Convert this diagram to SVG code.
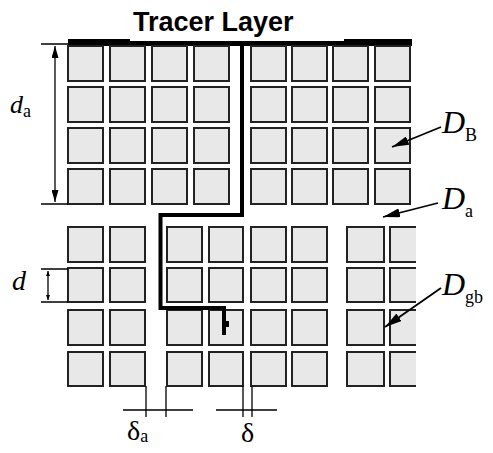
<svg xmlns="http://www.w3.org/2000/svg" width="493" height="453" viewBox="0 0 493 453">
<defs>
<style>
.sq{fill:#e8e8e8;stroke:#222;stroke-width:2}
.sqf{fill:#e8e8e8;stroke:none}
.ln{fill:none;stroke:#000;stroke-width:1.3}
.la{fill:none;stroke:#000;stroke-width:1.8}
.tr{fill:none;stroke:#000;stroke-width:4;stroke-linejoin:miter}
.it{font-family:"Liberation Serif",serif;font-style:italic}
.rm{font-family:"Liberation Serif",serif}
.ttl{font-family:"Liberation Sans",Arial,sans-serif;font-weight:bold}
</style>
<marker id="ah" viewBox="0 0 10 10" refX="10" refY="5" markerWidth="17" markerHeight="9" orient="auto" markerUnits="userSpaceOnUse" preserveAspectRatio="none"><path d="M0,0 L10,5 L0,10 z" fill="#000"/></marker>
<marker id="dh" viewBox="0 0 10 10" refX="10" refY="5" markerWidth="12" markerHeight="7" orient="auto-start-reverse" markerUnits="userSpaceOnUse" preserveAspectRatio="none"><path d="M0,0 L10,5 L0,10 z" fill="#000"/></marker>
<marker id="sh" viewBox="0 0 10 10" refX="10" refY="5" markerWidth="5" markerHeight="4" orient="auto-start-reverse" markerUnits="userSpaceOnUse" preserveAspectRatio="none"><path d="M0,0 L10,5 L0,10 z" fill="#000"/></marker>
</defs>
<rect width="493" height="453" fill="#fff"/>

<g id="title">
<text class="ttl" x="133" y="31" font-size="27">Tracer Layer</text>
</g>

<g id="tracer-layer">
<rect x="68" y="41" width="344" height="5" fill="#000"/>
<rect x="68" y="39" width="62" height="3" fill="#000"/>
<rect x="344" y="39" width="68" height="3" fill="#000"/>
</g>

<g id="grain-A">
<rect class="sq" x="68" y="46" width="35" height="35"/><rect class="sq" x="110" y="46" width="35" height="35"/><rect class="sq" x="152" y="46" width="35" height="35"/><rect class="sq" x="194" y="46" width="35" height="35"/>
<rect class="sq" x="68" y="87" width="35" height="35"/><rect class="sq" x="110" y="87" width="35" height="35"/><rect class="sq" x="152" y="87" width="35" height="35"/><rect class="sq" x="194" y="87" width="35" height="35"/>
<rect class="sq" x="68" y="128" width="35" height="35"/><rect class="sq" x="110" y="128" width="35" height="35"/><rect class="sq" x="152" y="128" width="35" height="35"/><rect class="sq" x="194" y="128" width="35" height="35"/>
<rect class="sq" x="68" y="169" width="35" height="35"/><rect class="sq" x="110" y="169" width="35" height="35"/><rect class="sq" x="152" y="169" width="35" height="35"/><rect class="sq" x="194" y="169" width="35" height="35"/>
</g>

<g id="grain-B">
<rect class="sq" x="251" y="46" width="35" height="35"/><rect class="sq" x="292" y="46" width="35" height="35"/><rect class="sq" x="333" y="46" width="35" height="35"/><rect class="sq" x="375" y="46" width="35" height="35"/>
<rect class="sq" x="251" y="87" width="35" height="35"/><rect class="sq" x="292" y="87" width="35" height="35"/><rect class="sq" x="333" y="87" width="35" height="35"/><rect class="sq" x="375" y="87" width="35" height="35"/>
<rect class="sq" x="251" y="128" width="35" height="35"/><rect class="sq" x="292" y="128" width="35" height="35"/><rect class="sq" x="333" y="128" width="35" height="35"/><rect class="sq" x="375" y="128" width="35" height="35"/>
<rect class="sq" x="251" y="169" width="35" height="35"/><rect class="sq" x="292" y="169" width="35" height="35"/><rect class="sq" x="333" y="169" width="35" height="35"/><rect class="sq" x="375" y="169" width="35" height="35"/>
</g>

<g id="grain-C">
<rect class="sq" x="68" y="227" width="35" height="35"/><rect class="sq" x="110" y="227" width="35" height="35"/>
<rect class="sq" x="68" y="268" width="35" height="34"/><rect class="sq" x="110" y="268" width="35" height="34"/>
<rect class="sq" x="68" y="310" width="35" height="35"/><rect class="sq" x="110" y="310" width="35" height="35"/>
<rect class="sq" x="68" y="352" width="35" height="34"/><rect class="sq" x="110" y="352" width="35" height="34"/>
</g>

<g id="grain-D">
<rect class="sq" x="167" y="227" width="35" height="35"/><rect class="sq" x="209" y="227" width="34" height="35"/><rect class="sq" x="251" y="227" width="35" height="35"/><rect class="sq" x="292" y="227" width="35" height="35"/>
<rect class="sq" x="167" y="268" width="35" height="34"/><rect class="sq" x="209" y="268" width="34" height="34"/><rect class="sq" x="251" y="268" width="35" height="34"/><rect class="sq" x="292" y="268" width="35" height="34"/>
<rect class="sq" x="167" y="310" width="35" height="35"/><rect class="sq" x="209" y="310" width="34" height="35"/><rect class="sq" x="251" y="310" width="35" height="35"/><rect class="sq" x="292" y="310" width="35" height="35"/>
<rect class="sq" x="167" y="352" width="35" height="34"/><rect class="sq" x="209" y="352" width="34" height="34"/><rect class="sq" x="251" y="352" width="35" height="34"/><rect class="sq" x="292" y="352" width="35" height="34"/>
</g>

<g id="grain-E">
<rect class="sq" x="347" y="227" width="37" height="35"/><rect class="sq" x="347" y="268" width="37" height="34"/><rect class="sq" x="347" y="310" width="37" height="35"/><rect class="sq" x="347" y="352" width="37" height="34"/>
<rect class="sqf" x="390" y="227" width="26" height="35"/><rect class="sqf" x="390" y="268" width="26" height="34"/><rect class="sqf" x="390" y="310" width="26" height="35"/><rect class="sqf" x="390" y="352" width="26" height="34"/>
<path d="M416,227 H390 V262 H416 M416,268 H390 V302 H416 M416,310 H390 V345 H416 M416,352 H390 V386 H416" fill="none" stroke="#222" stroke-width="2"/>
</g>

<g id="connectors">
<path class="tr" d="M242,44 V215 H160.5 V308 H224 V335"/>
<rect x="224" y="321" width="5" height="6" fill="#000"/>
<path class="ln" d="M41,44 H68 M41,204 H68"/>
<path class="ln" d="M55,46 V202" marker-start="url(#dh)" marker-end="url(#dh)"/>
<path class="ln" d="M41,269 H68 M41,302 H68"/>
<path class="ln" d="M48,271 V300" marker-start="url(#sh)" marker-end="url(#sh)"/>
<path class="ln" d="M123,410 H193 M146,386 V417 M166,386 V417 M216,410 H277 M243,386 V417 M252,386 V417"/>
<path class="la" d="M441,127 L392,147" marker-end="url(#ah)"/>
<path class="la" d="M438,203 L383,217" marker-end="url(#ah)"/>
<path class="la" d="M441,288 L385,327" marker-end="url(#ah)"/>
</g>

<g id="labels">
<text class="it" x="10" y="113" font-size="26">d<tspan class="rm" font-style="normal" font-size="18" dy="4">a</tspan></text>
<text class="it" x="12" y="290" font-size="28">d</text>
<text class="rm" x="127" y="440" font-size="28">δ<tspan font-size="18" dy="2">a</tspan></text>
<text class="rm" x="241" y="442" font-size="28">δ</text>
<text class="it" x="442" y="133" font-size="32">D<tspan class="rm" font-style="normal" font-size="18" dy="8">B</tspan></text>
<text class="it" x="442" y="209" font-size="32">D<tspan class="rm" font-style="normal" font-size="18" dy="8">a</tspan></text>
<text class="it" x="442" y="295" font-size="32">D<tspan class="rm" font-style="normal" font-size="18" dy="8">gb</tspan></text>
</g>
</svg>
